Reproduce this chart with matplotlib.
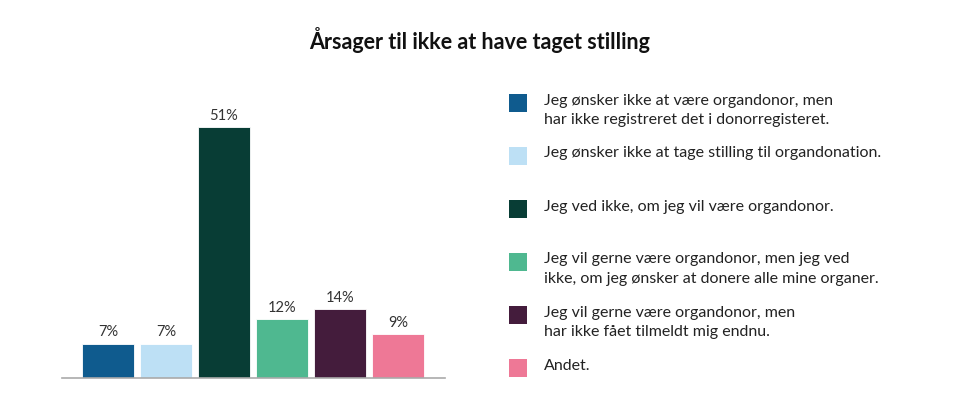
import matplotlib
matplotlib.use("Agg")
import matplotlib.pyplot as plt
from matplotlib.patches import Rectangle

title = "Årsager til ikke at have taget stilling"
categories = [
    "Jeg ønsker ikke at være organdonor, men\nhar ikke registreret det i donorregisteret.",
    "Jeg ønsker ikke at tage stilling til organdonation.",
    "Jeg ved ikke, om jeg vil være organdonor.",
    "Jeg vil gerne være organdonor, men jeg ved\nikke, om jeg ønsker at donere alle mine organer.",
    "Jeg vil gerne være organdonor, men\nhar ikke fået tilmeldt mig endnu.",
    "Andet.",
]
values = [7, 7, 51, 12, 14, 9]
colors = ["#0f5b8e", "#bde0f5", "#083d35", "#4fb890", "#441c3c", "#ee7896"]

W, H = 960, 398
fig = plt.figure(figsize=(W / 100, H / 100), dpi=100)
plt.rcParams['font.family'] = ['Lato', 'DejaVu Sans']

def fx(px):
    return px / W

def fy(py):
    return 1 - py / H

# axes: x 62..445, bottom at y=378
ax = fig.add_axes([fx(62), fy(378), fx(445 - 62), (378 - 83) / H])
x = list(range(len(values)))
ax.bar(x, values, width=0.9, color=colors, edgecolor="white", linewidth=0.6)
ax.set_xlim(-0.79, 5.81)
ax.set_ylim(0, 60)
for s in ["top", "right", "left"]:
    ax.spines[s].set_visible(False)
ax.spines["bottom"].set_color("#aaaaaa")
ax.spines["bottom"].set_linewidth(1.2)
ax.set_xticks([])
ax.set_yticks([])
ax.patch.set_alpha(0)
for xi, v in zip(x, values):
    ax.annotate(f"{v}%", (xi, v), xytext=(0, 3), textcoords="offset points",
                ha="center", va="bottom", fontsize=10.5, color="#333333")

fig.text(0.5, fy(40), title, ha="center", va="center", fontsize=15.5,
         fontweight="bold", color="#111111")

# legend
sq = 18
y0 = 103
step = 53
for i, (lab, c) in enumerate(zip(categories, colors)):
    cy = y0 + i * step
    fig.patches.append(Rectangle((fx(509), fy(cy + sq / 2)), fx(sq), sq / H,
                                 transform=fig.transFigure, facecolor=c,
                                 edgecolor="none"))
    fig.text(fx(544), fy(cy - 9.5), lab, ha="left", va="top", fontsize=11.5,
             color="#222222", linespacing=1.5)

fig.savefig("out.png", dpi=100)
